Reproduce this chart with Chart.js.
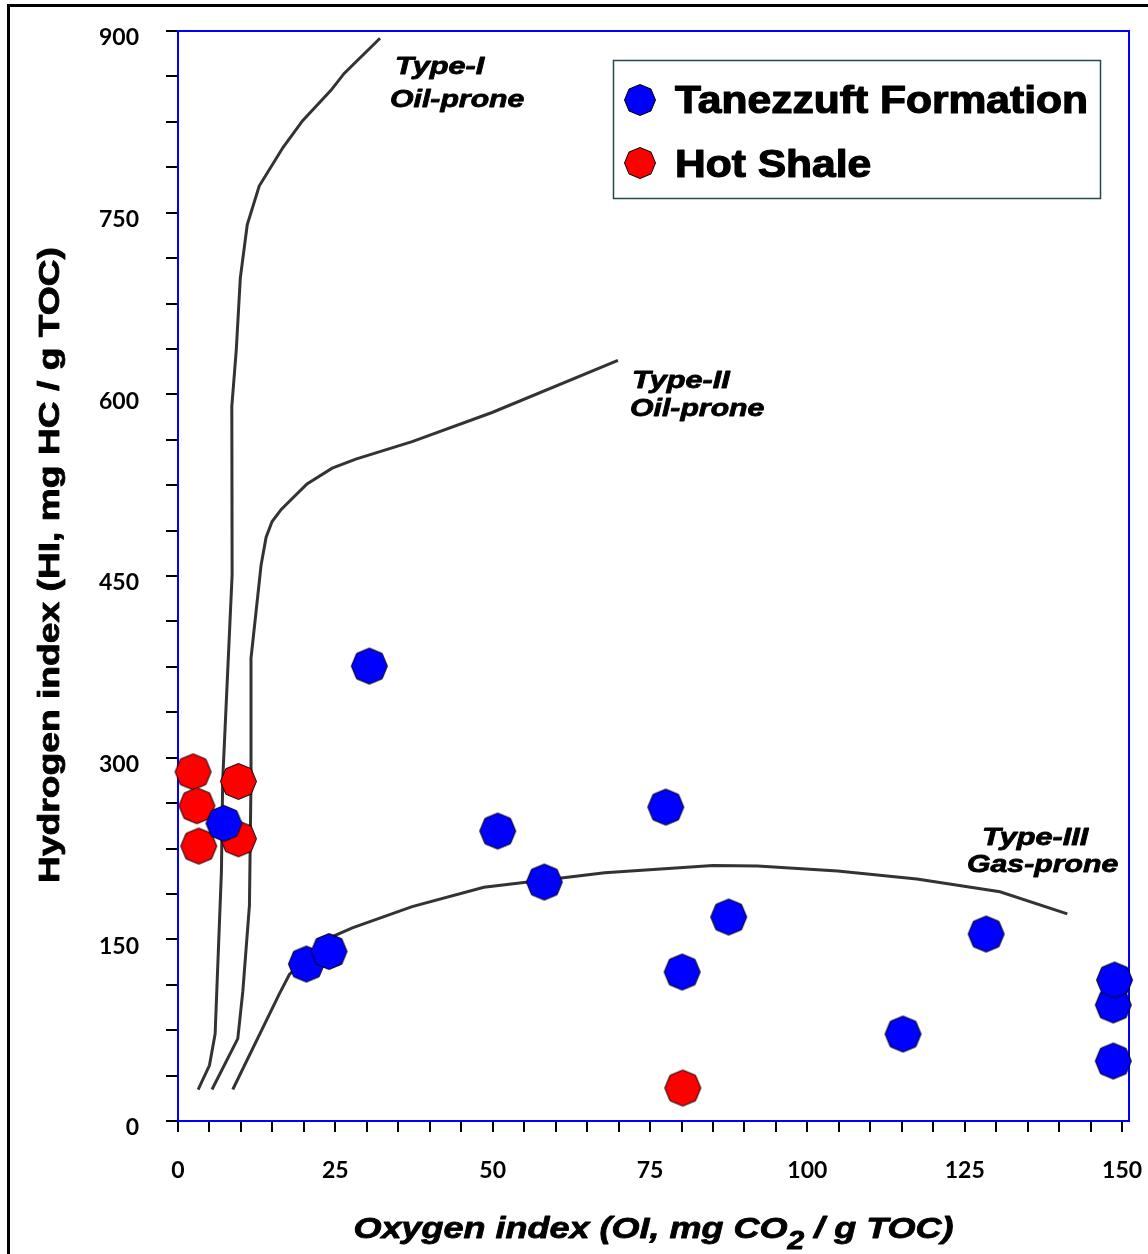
<!DOCTYPE html>
<html><head><meta charset="utf-8">
<style>html,body{margin:0;padding:0;background:#fff;}#wrap{width:1148px;height:1254px;position:relative;}</style>
<script src="https://cdn.jsdelivr.net/npm/chart.js@4.4.1/dist/chart.umd.min.js"></script>
</head><body><div id="wrap"><canvas id="c"></canvas></div>
<script>
// ---------- DATA ----------
const seriesNames = ['Tanezzuft Formation', 'Hot Shale'];
const seriesColors = ['#0000ff', '#ff0000'];
const tanezzuftOI = [30.4, 20.4, 24.0, 50.8, 58.2, 77.5, 87.5, 80.1, 115.2, 128.4, 148.6, 148.6, 148.8, 7.3];
const tanezzuftHI = [375.6, 129.6, 140.0, 239.4, 197.3, 259.2, 168.4, 123.0, 71.8, 154.4, 49.5, 95.8, 116.4, 245.7];
const hotShaleOI = [2.4, 9.6, 3.0, 3.3, 9.6, 80.2];
const hotShaleHI = [288.3, 280.4, 260.3, 227.0, 233.0, 27.2];
const typeI_OI = [3.2, 5.0, 5.9, 6.9, 7.1, 8.6, 8.55, 9.25, 9.9, 11.0, 12.9, 16.7, 19.8, 24.3, 26.4, 32.1];
const typeI_HI = [26, 46, 72, 206, 281, 451, 590, 636, 696, 740, 772, 804, 826, 851, 865, 894];
const typeII_OI = [5.4, 9.5, 10.3, 11.35, 11.6, 11.6, 13.2, 14.0, 14.95, 16.4, 20.5, 24.5, 28.25, 37.2, 49.9, 69.9];
const typeII_HI = [26, 68, 107, 178, 281, 382, 459, 482, 495, 505, 526, 539, 546.5, 561, 585, 628];
const typeIII_OI = [8.7, 16.1, 17.7, 24.0, 27.7, 37.2, 48.6, 58.3, 67.8, 85.0, 92.1, 104.8, 117.4, 130.6, 141.3];
const typeIII_HI = [26, 105, 121, 151, 159.5, 177, 193, 199, 205, 211, 210.5, 206.4, 199.8, 189.3, 171];
const curveLabels = [['Type-I', 'Oil-prone'], ['Type-II', 'Oil-prone'], ['Type-III', 'Gas-prone']];
const xTickLabels = [0, 25, 50, 75, 100, 125, 150];
const yTickLabels = [0, 150, 300, 450, 600, 750, 900];
const xTitleParts = ['Oxygen index (OI, mg CO', '2', ' / g TOC)'];
const yTitle = 'Hydrogen index (HI, mg HC / g TOC)';

// ---------- helpers ----------
const pts = (xs, ys) => xs.map((x, i) => ({x: x, y: ys[i]}));
function octagon(color, r) {
  const s = Math.ceil(2 * r + 3);
  const c = document.createElement('canvas');
  c.width = s; c.height = s;
  const g = c.getContext('2d');
  g.beginPath();
  for (let k = 0; k < 8; k++) {
    const a = -Math.PI / 2 + k * Math.PI / 4;
    const px = s / 2 + r * Math.cos(a), py = s / 2 + r * Math.sin(a);
    k ? g.lineTo(px, py) : g.moveTo(px, py);
  }
  g.closePath();
  g.fillStyle = color; g.fill();
  g.strokeStyle = '#000'; g.lineWidth = 1; g.stroke();
  return c;
}
function sText(ctx, txt, x, y, font, sx, align, thick) {
  ctx.save();
  ctx.font = font; ctx.textAlign = 'left'; ctx.textBaseline = 'alphabetic'; ctx.fillStyle = '#000';
  const w = ctx.measureText(txt).width * sx;
  const x0 = align === 'center' ? x - w / 2 : (align === 'right' ? x - w : x);
  ctx.translate(x0, y); ctx.scale(sx, 1); ctx.fillText(txt, 0, 0);
  if (thick) { ctx.strokeStyle = '#000'; ctx.lineWidth = thick; ctx.lineJoin = 'round'; ctx.strokeText(txt, 0, 0); }
  ctx.restore();
  return w;
}
const TF = '"Liberation Sans", Arial, sans-serif';

const decor = {
  id: 'decor',
  beforeDatasetsDraw(chart) {
    const {ctx, chartArea: a} = chart;
    ctx.save();
    ctx.strokeStyle = '#0000ff'; ctx.lineWidth = 2;
    ctx.strokeRect(a.left, a.top, a.right - a.left, a.bottom - a.top);
    ctx.restore();
  },
  afterDraw(chart) {
    const ctx = chart.ctx;
    // outer frame
    ctx.save();
    ctx.strokeStyle = '#000'; ctx.lineWidth = 3;
    ctx.beginPath(); ctx.moveTo(8.5, 1254); ctx.lineTo(8.5, 5.5); ctx.lineTo(1148, 5.5); ctx.stroke();
    ctx.restore();
    // legend
    ctx.save();
    ctx.fillStyle = '#fff'; ctx.fillRect(613.5, 60.5, 487, 138);
    ctx.strokeStyle = '#244a4a'; ctx.lineWidth = 1.5; ctx.strokeRect(613.5, 60.5, 487, 138);
    ctx.restore();
    const rows = [[100, 113], [163, 177]];
    chart.data.datasets.filter(d => d.isSeries).forEach((d, i) => {
      const img = octagon(d.backgroundColor, 15.5);
      ctx.drawImage(img, 640 - img.width / 2, rows[i][0] - img.height / 2);
      sText(ctx, d.label, 675, rows[i][1], 'bold 38px ' + TF, 1.12, 'left', 1.2);
    });
    // curve labels
    const af = 'italic bold 24px ' + TF;
    const pos = [[[395, 74], [390, 107]], [[632, 388], [630, 416]], [[982, 845], [967, 872]]];
    curveLabels.forEach((lab, i) => {
      sText(ctx, lab[0], pos[i][0][0], pos[i][0][1], af, 1.28, 'left', 0.8);
      sText(ctx, lab[1], pos[i][1][0], pos[i][1][1], af, 1.26, 'left', 0.8);
    });
    // x title
    ctx.save();
    const f1 = 'italic bold 30px ' + TF, f2 = 'italic bold 25px ' + TF, sx = 1.2;
    ctx.font = f1; const w1 = ctx.measureText(xTitleParts[0]).width * sx, w3 = ctx.measureText(xTitleParts[2]).width * sx;
    ctx.font = f2; const w2 = ctx.measureText(xTitleParts[1]).width * sx;
    ctx.restore();
    let x0 = 653.5 - (w1 + w2 + w3) / 2;
    sText(ctx, xTitleParts[0], x0, 1238, f1, sx, 'left', 0.8);
    sText(ctx, xTitleParts[1], x0 + w1, 1249, f2, sx, 'left', 0.8);
    sText(ctx, xTitleParts[2], x0 + w1 + w2, 1238, f1, sx, 'left', 0.8);
    // y title
    ctx.save();
    ctx.translate(58.5, 565); ctx.rotate(-Math.PI / 2);
    sText(ctx, yTitle, 0, 0, 'bold 30px ' + TF, 1.24, 'center', 0.8);
    ctx.restore();
  }
};

function build() {
  const blueImg = octagon(seriesColors[0], 18);
  const redImg = octagon(seriesColors[1], 18);
  const lineDs = (xs, ys) => ({
    type: 'scatter', data: pts(xs, ys), showLine: true, borderColor: '#333333', borderWidth: 3,
    pointRadius: 0, tension: 0, fill: false, order: 5
  });
  const tickFont = {family: 'Lato', weight: 'bold', size: 23};
  new Chart(document.getElementById('c'), {
    type: 'scatter',
    data: {
      datasets: [
        {label: seriesNames[0], isSeries: true, data: pts(tanezzuftOI, tanezzuftHI), backgroundColor: seriesColors[0],
         pointStyle: blueImg, pointRadius: 18, order: 0, clip: false},
        {label: seriesNames[1], isSeries: true, data: pts(hotShaleOI, hotShaleHI), backgroundColor: seriesColors[1],
         pointStyle: redImg, pointRadius: 18, order: 1, clip: false},
        lineDs(typeI_OI, typeI_HI),
        lineDs(typeII_OI, typeII_HI),
        lineDs(typeIII_OI, typeIII_HI)
      ]
    },
    options: {
      responsive: true, maintainAspectRatio: false, animation: false,
      layout: {padding: {left: 0, top: 31, right: 14, bottom: 0}},
      plugins: {legend: {display: false}, tooltip: {enabled: false}},
      scales: {
        x: {
          type: 'linear', min: 0, max: 151.1,
          grid: {drawOnChartArea: false, drawTicks: true, tickLength: 11, color: '#000', lineWidth: 2},
          border: {display: false},
          ticks: {stepSize: 5, includeBounds: false, autoSkip: false, maxRotation: 0, padding: 25, color: '#000', font: tickFont,
                  callback: v => xTickLabels.includes(v) ? String(v) : ''},
          afterFit: s => { s.height = 133; s.paddingLeft = 0; s.paddingRight = 0; }
        },
        y: {
          type: 'linear', min: 0, max: 900,
          grid: {drawOnChartArea: false, drawTicks: true, tickLength: 12, color: '#000', lineWidth: 2},
          border: {display: false},
          ticks: {stepSize: 37.5, autoSkip: false, padding: 27, labelOffset: 7, color: '#000', font: tickFont,
                  callback: v => yTickLabels.includes(v) ? String(v) : ''},
          afterFit: s => { s.width = 178; s.paddingTop = 0; s.paddingBottom = 0; }
        }
      }
    },
    plugins: [decor]
  });
}
Promise.all([
  document.fonts.load('bold 23px Lato'),
  document.fonts.load('bold 30px "Liberation Sans"'),
  document.fonts.load('italic bold 30px "Liberation Sans"')
]).then(build, build);
</script></body></html>
